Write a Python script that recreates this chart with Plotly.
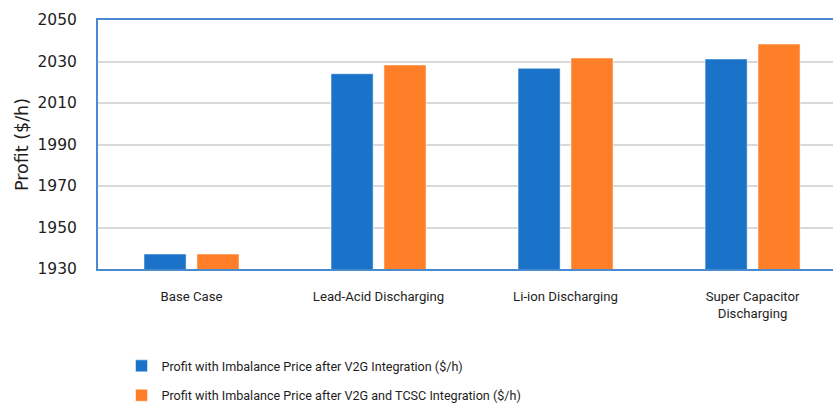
import plotly.graph_objects as go

categorias = ["Base Case", "Lead-Acid Discharging", "Li-ion Discharging", "Super Capacitor<br>Discharging"]
beneficio_v2g = [1937.2, 2024.1, 2026.7, 2031.2]
beneficio_v2g_tcsc = [1937.2, 2028.3, 2031.7, 2038.4]
nombres = [
    "Profit with Imbalance Price after V2G Integration ($/h)",
    "Profit with Imbalance Price after V2G and TCSC Integration ($/h)",
]
ticks_y = [1930, 1950, 1970, 1990, 2010, 2030, 2050]

AZUL = "#1a73c8"
NARANJA = "#fe7f27"
TEXTO = "#1e1e1e"
ESTRECHA = "Roboto"

fig = go.Figure()
fig.add_trace(
    go.Bar(
        x=categorias,
        y=beneficio_v2g,
        name=nombres[0],
        legendgroup="v2g",
        marker=dict(color=AZUL, line=dict(color="rgba(255,255,255,0.5)", width=1)),
        width=0.225,
        offset=-0.254,
    )
)
fig.add_trace(
    go.Bar(
        x=categorias,
        y=beneficio_v2g_tcsc,
        name=nombres[1],
        legendgroup="tcsc",
        marker=dict(color=NARANJA, line=dict(color="rgba(255,255,255,0.5)", width=1)),
        width=0.225,
        offset=0.029,
    )
)
fig.update_xaxes(
    range=[-0.5, 3.43],
    showline=True,
    linecolor="#4a8ad0",
    linewidth=2,
    mirror=True,
    showgrid=False,
    ticks="",
    ticklabelstandoff=14,
    tickfont=dict(family=ESTRECHA, size=13.2, color=TEXTO),
    automargin=False,
)
fig.update_yaxes(
    range=[1930, 2050],
    tickvals=ticks_y,
    showline=True,
    linecolor="#4a8ad0",
    linewidth=2,
    showgrid=True,
    gridcolor="#d9d9d9",
    gridwidth=1.5,
    zeroline=False,
    ticks="",
    ticklabelstandoff=16,
    tickfont=dict(family="DejaVu Sans", size=15.5, color=TEXTO),
    title=dict(text="Profit ($/h)", font=dict(family="DejaVu Sans", size=17.5, color=TEXTO), standoff=4),
    automargin=False,
)
fig.update_layout(
    width=833,
    height=405,
    margin=dict(l=98, r=0, t=20, b=136, autoexpand=False),
    plot_bgcolor="#ffffff",
    paper_bgcolor="#ffffff",
    barmode="group",
    showlegend=True,
    legend=dict(
        orientation="v",
        x=0.032,
        xanchor="left",
        y=-0.33,
        yanchor="top",
        font=dict(family=ESTRECHA, size=12.6, color=TEXTO),
        itemwidth=30,
        tracegroupgap=10,
    ),
)
fig.write_html(
    "out.html",
    config={"displayModeBar": False},
    post_script="document.body.style.margin='0';",
)
